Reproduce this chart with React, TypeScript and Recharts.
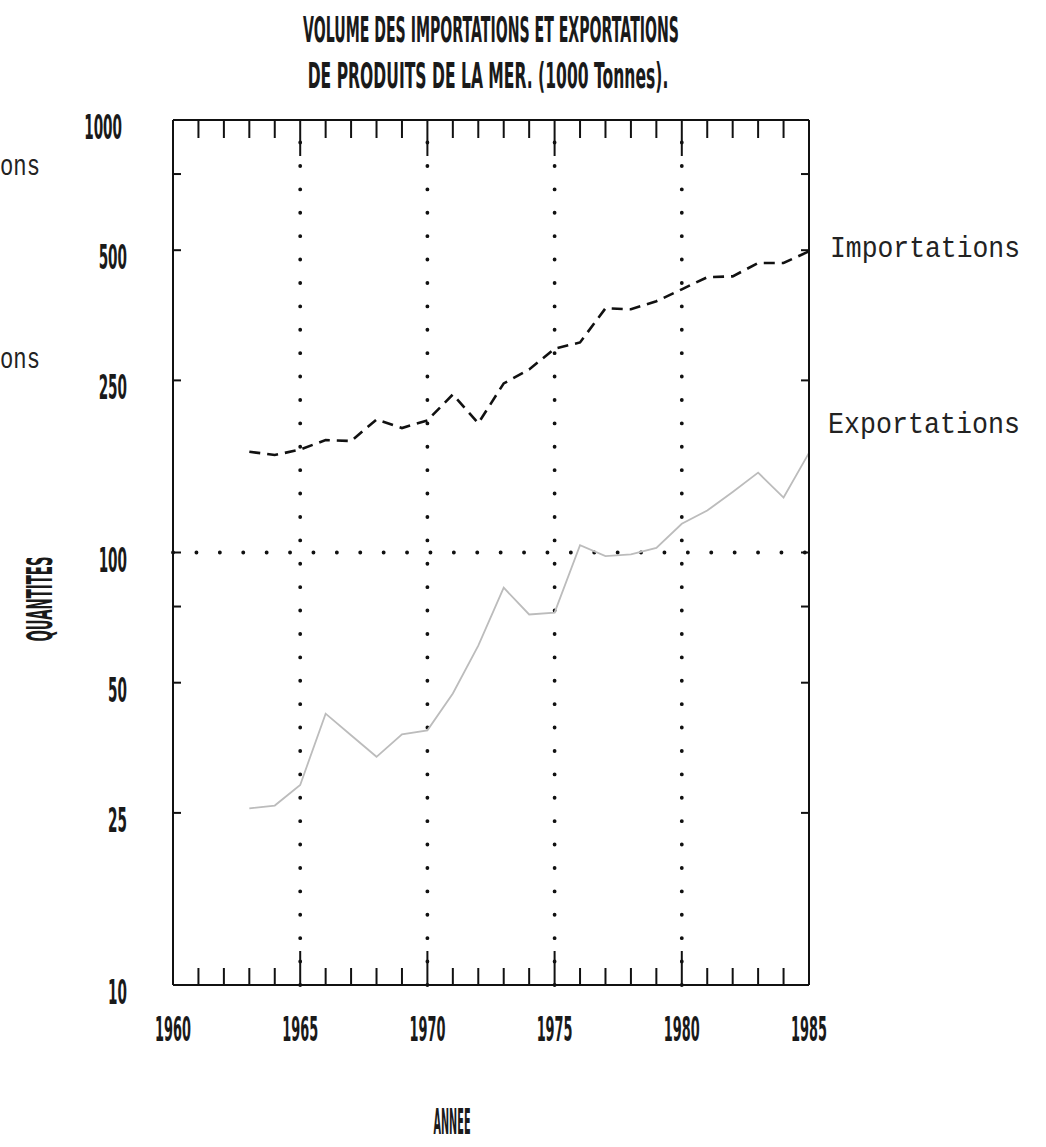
import React from "react";
import { Line, LineChart, ReferenceLine, XAxis, YAxis } from "recharts";

// values (1000 tonnes)
const YEARS = [
  1963, 1964, 1965, 1966, 1967, 1968, 1969, 1970, 1971, 1972, 1973, 1974,
  1975, 1976, 1977, 1978, 1979, 1980, 1981, 1982, 1983, 1984, 1985,
];
const IMPORTATIONS = [
  171, 168, 173, 182, 181, 203, 194, 202, 232, 199, 246, 265, 296, 306, 367,
  365, 381, 406, 433, 435, 467, 467, 497,
];
const EXPORTATIONS = [
  25.6, 26, 29, 42.4, 37.8, 33.7, 38, 38.8, 47.2, 60.9, 82.9, 71.9, 72.6, 104,
  98.1, 99, 102.5, 116.5, 125, 138, 153, 134, 170,
];

const YEAR_TICKS = [
  1960, 1961, 1962, 1963, 1964, 1965, 1966, 1967, 1968, 1969, 1970, 1971, 1972,
  1973, 1974, 1975, 1976, 1977, 1978, 1979, 1980, 1981, 1982, 1983, 1984, 1985,
];
const YEAR_LABELS = [1960, 1965, 1970, 1975, 1980, 1985];
const GRID_YEARS = [1965, 1970, 1975, 1980];
const QTY_TICKS = [10, 25, 50, 75, 100, 250, 500, 750, 1000];
const QTY_LABELS = [10, 25, 50, 100, 250, 500, 1000];

const data = YEARS.map((year, i) => ({
  year,
  imp: IMPORTATIONS[i],
  exp: EXPORTATIONS[i],
}));

const INK = "#111";
const PLOT_FONT = "'DejaVu Sans', sans-serif";
const TYPE_FONT = "'Liberation Mono', 'DejaVu Sans Mono', monospace";

const dotted = {
  stroke: INK,
  strokeWidth: 3.8,
  strokeLinecap: "round" as const,
  strokeDasharray: "0.1 23.3",
};

// narrow plotter lettering: a bold sans squeezed horizontally
const plotText = (
  label: string,
  x: number,
  y: number,
  sx: number,
  anchor: "start" | "middle" | "end",
  size = 34,
  rotate = 0,
) => (
  <text
    transform={`translate(${x} ${y}) rotate(${rotate}) scale(${sx} 1)`}
    fontFamily={PLOT_FONT}
    fontWeight="bold"
    fontSize={size}
    fill="#1a1a1a"
    textAnchor={anchor}
  >
    {label}
  </text>
);

const BottomTick = (props: any) => {
  const { x, y, payload } = props;
  const major = payload.value % 5 === 0;
  return (
    <g>
      <line x1={x} x2={x} y1={y} y2={y - (major ? 34 : 17)} stroke={INK} strokeWidth={2} />
      {YEAR_LABELS.includes(payload.value) && plotText(String(payload.value), x, y + 56, 0.38, "middle")}
    </g>
  );
};

const TopTick = (props: any) => {
  const { x, y, payload } = props;
  const major = payload.value % 5 === 0;
  return <line x1={x} x2={x} y1={y} y2={y + (major ? 36 : 18)} stroke={INK} strokeWidth={2} />;
};

const LeftTick = (props: any) => {
  const { x, y, payload } = props;
  const v = payload.value;
  return (
    <g>
      <line x1={x} x2={x + 8} y1={y} y2={y} stroke={INK} strokeWidth={2} />
      {QTY_LABELS.includes(v) && plotText(String(v), v === 1000 ? x - 51 : x - 46, y + 19, 0.4, "end")}
    </g>
  );
};

const RightTick = (props: any) => {
  const { x, y, payload } = props;
  if (payload.value === 10 || payload.value === 1000) return <g />;
  return <line x1={x} x2={x - 8} y1={y} y2={y} stroke={INK} strokeWidth={2} />;
};

export default function App() {
  return (
    <div style={{ position: "absolute", left: 0, top: 0, width: 1046, height: 1147, background: "#fff" }}>
      <LineChart
        width={1046}
        height={1147}
        data={data}
        margin={{ top: 119, right: 236, bottom: 161, left: 172 }}
      >
        <XAxis
          dataKey="year"
          type="number"
          domain={[1960, 1985]}
          ticks={YEAR_TICKS}
          interval={0}
          height={1}
          tickSize={0}
          tickMargin={0}
          tickLine={false}
          axisLine={{ stroke: INK, strokeWidth: 2 }}
          tick={(p: any) => <BottomTick {...p} />}
        />
        <XAxis
          xAxisId="top"
          orientation="top"
          dataKey="year"
          type="number"
          domain={[1960, 1985]}
          ticks={YEAR_TICKS}
          interval={0}
          height={1}
          tickSize={0}
          tickMargin={0}
          tickLine={false}
          axisLine={{ stroke: INK, strokeWidth: 2 }}
          tick={(p: any) => <TopTick {...p} />}
        />
        <YAxis
          type="number"
          scale="log"
          domain={[10, 1000]}
          ticks={QTY_TICKS}
          interval={0}
          width={1}
          tickSize={0}
          tickMargin={0}
          tickLine={false}
          axisLine={{ stroke: INK, strokeWidth: 2 }}
          tick={(p: any) => <LeftTick {...p} />}
        />
        <YAxis
          yAxisId="right"
          orientation="right"
          type="number"
          scale="log"
          domain={[10, 1000]}
          ticks={QTY_TICKS}
          interval={0}
          width={1}
          tickSize={0}
          tickMargin={0}
          tickLine={false}
          axisLine={{ stroke: INK, strokeWidth: 2 }}
          tick={(p: any) => <RightTick {...p} />}
        />
        {GRID_YEARS.map((yr) => (
          <ReferenceLine key={yr} x={yr} {...dotted} />
        ))}
        <ReferenceLine y={100} {...dotted} />
        <Line
          yAxisId="right"
          dataKey="exp"
          type="linear"
          stroke="#bcbcbc"
          strokeWidth={1.8}
          dot={false}
          isAnimationActive={false}
        />
        <Line
          dataKey="imp"
          type="linear"
          stroke={INK}
          strokeWidth={2.6}
          strokeDasharray="11 7"
          dot={false}
          isAnimationActive={false}
        />
      </LineChart>

      <svg
        width={1046}
        height={1147}
        style={{ position: "absolute", left: 0, top: 0, pointerEvents: "none" }}
      >
        {plotText("VOLUME DES IMPORTATIONS ET EXPORTATIONS", 491, 42, 0.392, "middle", 36)}
        {plotText("DE PRODUITS DE LA MER. (1000 Tonnes).", 488, 88, 0.433, "middle", 36)}
        {plotText("QUANTITES", 52, 599, 0.37, "middle", 36, -90)}
        {plotText("ANNEE", 452, 1134, 0.27, "middle", 36)}

        <text x={830} y={257} fontFamily={TYPE_FONT} fontSize={29} fill="#222" textLength={190} lengthAdjust="spacingAndGlyphs">
          Importations
        </text>
        <text x={828} y={433} fontFamily={TYPE_FONT} fontSize={29} fill="#222" textLength={192} lengthAdjust="spacingAndGlyphs">
          Exportations
        </text>
        <text x={0} y={175} fontFamily={TYPE_FONT} fontSize={29} fill="#222" textLength={40} lengthAdjust="spacingAndGlyphs">
          ons
        </text>
        <text x={0} y={368} fontFamily={TYPE_FONT} fontSize={29} fill="#222" textLength={40} lengthAdjust="spacingAndGlyphs">
          ons
        </text>
      </svg>
    </div>
  );
}
